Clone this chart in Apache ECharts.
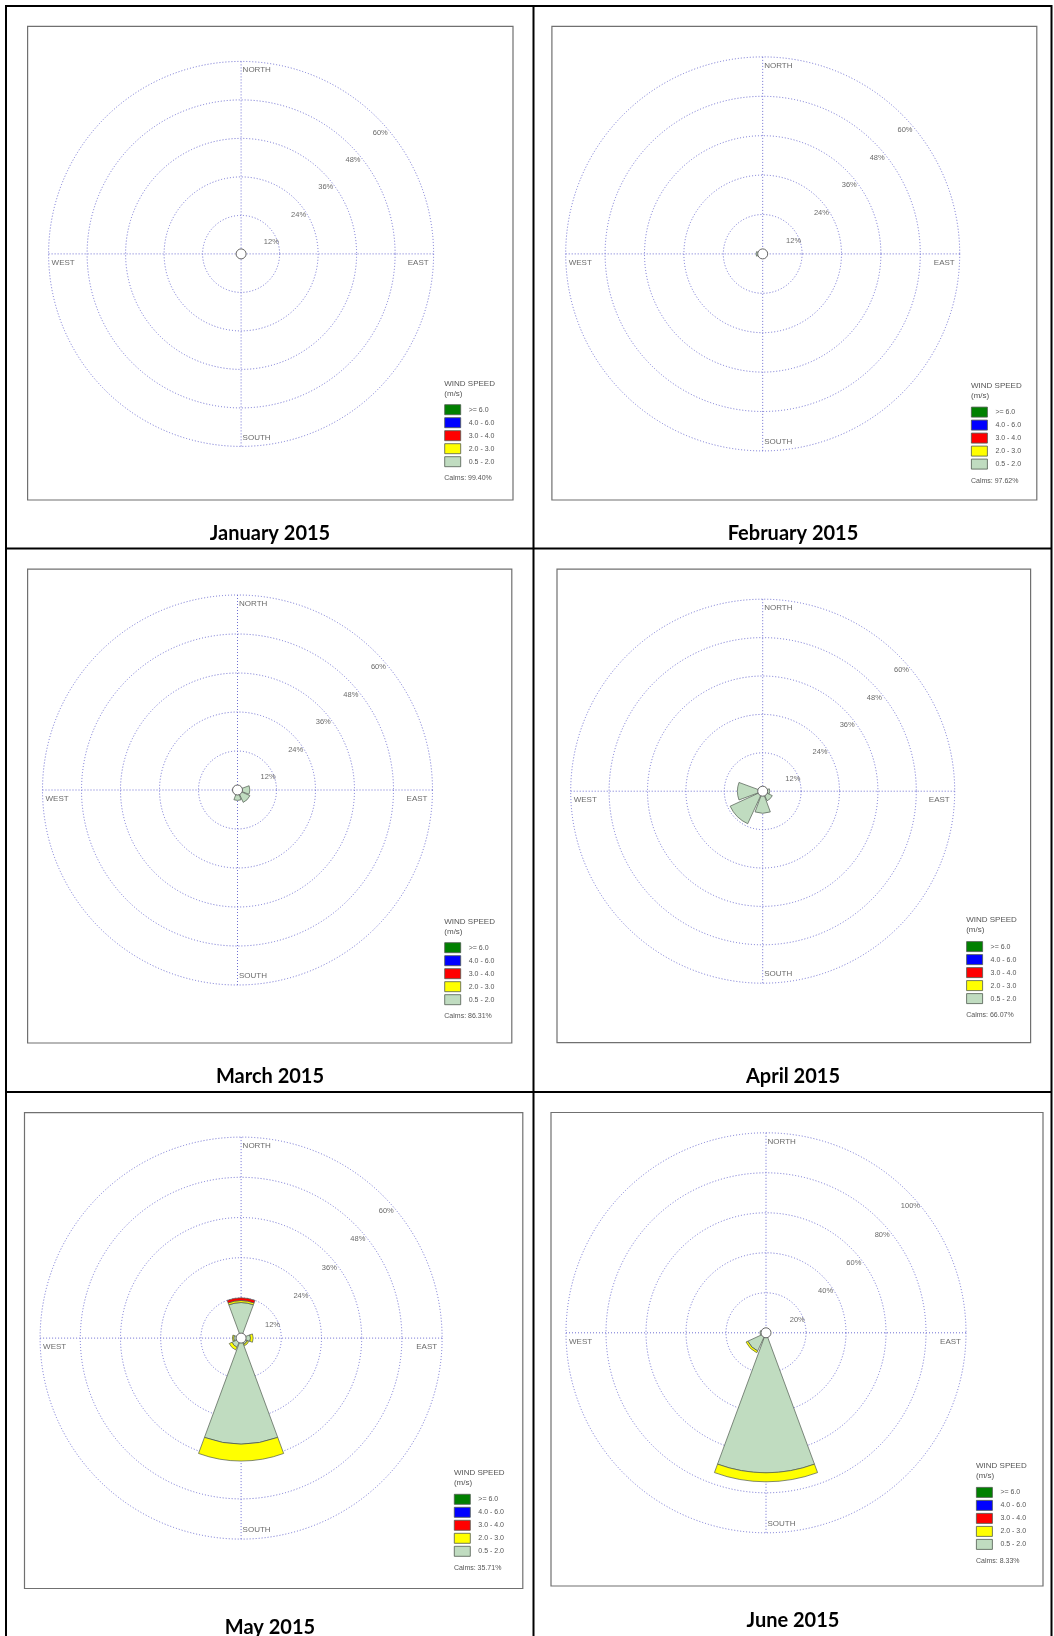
<!DOCTYPE html>
<html>
<head>
<meta charset="utf-8">
<script src="https://cdn.jsdelivr.net/npm/echarts@6/dist/echarts.min.js"></script>
<style>
  html, body { margin: 0; padding: 0; background: #fff; }
  #main { width: 1054px; height: 1636px; }
</style>
</head>
<body>
<div id="main"></div>
<script>
  // wind rose table, Jan - Jun 2015
  var directions = ['N', 'NE', 'E', 'SE', 'S', 'SW', 'W', 'NW'];
  var speedClasses = ['0.5 - 2.0', '2.0 - 3.0', '3.0 - 4.0', '4.0 - 6.0', '>= 6.0'];
  var speedColors = ['#c0dcc0', '#ffff00', '#ff0000', '#0000ff', '#008000'];
  var legendOrder = ['>= 6.0', '4.0 - 6.0', '3.0 - 4.0', '2.0 - 3.0', '0.5 - 2.0'];
  var months = ['January 2015', 'February 2015', 'March 2015', 'April 2015', 'May 2015', 'June 2015'];
  var calms = ['99.40%', '97.62%', '86.31%', '66.07%', '35.71%', '8.33%'];
  var ringTicks = [12, 24, 36, 48, 60];
  var ringTicksJun = [20, 40, 60, 80, 100];
  var compassNames = ['NORTH', 'EAST', 'SOUTH', 'WEST'];
  var compassBearings = [0, 90, 180, 270];

  // % frequency, one row per speed class (0.5-2.0 first), columns N..NW
  var janFreq = [
    [0.1, 0, 0, 0, 0.2, 0.2, 0.1, 0],
    [0, 0, 0, 0, 0, 0, 0, 0],
    [0, 0, 0, 0, 0, 0, 0, 0],
    [0, 0, 0, 0, 0, 0, 0, 0],
    [0, 0, 0, 0, 0, 0, 0, 0]
  ];
  var febFreq = [
    [0, 0, 0, 0, 0.2, 0.2, 2.0, 0],
    [0, 0, 0, 0, 0, 0, 0, 0],
    [0, 0, 0, 0, 0, 0, 0, 0],
    [0, 0, 0, 0, 0, 0, 0, 0],
    [0, 0, 0, 0, 0, 0, 0, 0]
  ];
  var marFreq = [
    [0.2, 0.6, 3.8, 4.2, 3.2, 1.4, 0.2, 0.1],
    [0, 0, 0, 0, 0, 0, 0, 0],
    [0, 0, 0, 0, 0, 0, 0, 0],
    [0, 0, 0, 0, 0, 0, 0, 0],
    [0, 0, 0, 0, 0, 0, 0, 0]
  ];
  var aprFreq = [
    [0.8, 0.6, 2.2, 3.3, 6.9, 11.2, 7.9, 1.0],
    [0, 0, 0, 0, 0, 0, 0, 0],
    [0, 0, 0, 0, 0, 0, 0, 0],
    [0, 0, 0, 0, 0, 0, 0, 0],
    [0, 0, 0, 0, 0, 0, 0, 0]
  ];
  var mayFreq = [
    [10.6, 0.8, 2.8, 2.0, 31.6, 3.0, 2.2, 1.0],
    [0.6, 0, 0.8, 0.5, 5.1, 0.9, 0.4, 0.2],
    [0.8, 0, 0, 0, 0, 0, 0, 0],
    [0, 0, 0, 0, 0, 0, 0, 0],
    [0, 0, 0, 0, 0, 0, 0, 0]
  ];
  var junFreq = [
    [1.0, 0, 0, 1.0, 70.0, 10.0, 3.0, 1.0],
    [0, 0, 0, 0, 4.5, 1.0, 0, 0],
    [0, 0, 0, 0, 0, 0, 0, 0],
    [0, 0, 0, 0, 0, 0, 0, 0],
    [0, 0, 0, 0, 0, 0, 0, 0]
  ];
  var monthFreq = [janFreq, febFreq, marFreq, aprFreq, mayFreq, junFreq];
  var monthTicks = [ringTicks, ringTicks, ringTicks, ringTicks, ringTicks, ringTicksJun];

  // layout of each panel (pixels)
  var panels = [
    {box: [27.6, 26.4, 513, 500],    c: [241.1, 253.9],  R: 192.5, leg: [444.3, 383.3],  title: [270, 534]},
    {box: [551.9, 26.4, 1036.8, 500], c: [762.7, 253.9], R: 197,   leg: [971, 385.7],    title: [793, 534]},
    {box: [27.6, 569.2, 511.8, 1043], c: [237.5, 790],   R: 195,   leg: [444.3, 921.3],  title: [270, 1076.7]},
    {box: [557, 569.2, 1030.6, 1042.7], c: [762.7, 791.2], R: 192, leg: [966.2, 920.2],  title: [793, 1076.7]},
    {box: [24.5, 1112.6, 522.8, 1588.5], c: [241.1, 1338.1], R: 201, leg: [453.9, 1472.9], title: [270, 1628]},
    {box: [551, 1112.5, 1043, 1586], c: [766, 1332.8],   R: 200,   leg: [976, 1466],     title: [793, 1621]}
  ];

  var gridColor = '#6f6fd2';
  var smallFont = 'Liberation Sans, Arial, sans-serif';

  var polar = [], angleAxis = [], radiusAxis = [], series = [], legend = [], graphic = [];

  // table frame
  graphic.push({type: 'rect', shape: {x: 6, y: 6, width: 1045.5, height: 1680}, style: {fill: 'none', stroke: '#000', lineWidth: 2}});
  graphic.push({type: 'line', shape: {x1: 533.5, y1: 6, x2: 533.5, y2: 1680}, style: {stroke: '#000', lineWidth: 2}});
  graphic.push({type: 'line', shape: {x1: 6, y1: 548.5, x2: 1051.5, y2: 548.5}, style: {stroke: '#000', lineWidth: 2}});
  graphic.push({type: 'line', shape: {x1: 6, y1: 1092, x2: 1051.5, y2: 1092}, style: {stroke: '#000', lineWidth: 2}});

  panels.forEach(function (p, i) {
    var ticks = monthTicks[i];
    var max = ticks[ticks.length - 1];
    var step = ticks[0];
    var gi = 2 * i, di = 2 * i + 1;

    polar.push({center: p.c, radius: p.R});
    polar.push({center: p.c, radius: p.R});

    // grid polar: rings + N/E/S/W spokes
    angleAxis.push({
      polarIndex: gi, type: 'value', min: 0, max: 360, interval: 90,
      startAngle: 90, clockwise: true,
      axisLine: {show: false}, axisTick: {show: false}, axisLabel: {show: false},
      splitLine: {show: true, lineStyle: {color: gridColor, width: 1, type: [1, 2]}},
      splitArea: {show: false}
    });
    radiusAxis.push({
      polarIndex: gi, type: 'value', min: 0, max: max, interval: step,
      axisLine: {show: false}, axisTick: {show: false}, axisLabel: {show: false},
      splitLine: {show: true, lineStyle: {color: gridColor, width: 1, type: [1, 2]}},
      splitArea: {show: false}
    });
    // data polar: 8 direction sectors, N centred at the top
    angleAxis.push({
      polarIndex: di, type: 'category', data: directions,
      startAngle: 112.5, clockwise: true, boundaryGap: true,
      axisLine: {show: false}, axisTick: {show: false}, axisLabel: {show: false},
      splitLine: {show: false}, splitArea: {show: false}
    });
    radiusAxis.push({
      polarIndex: di, type: 'value', min: 0, max: max,
      axisLine: {show: false}, axisTick: {show: false}, axisLabel: {show: false},
      splitLine: {show: false}, splitArea: {show: false}
    });

    monthFreq[i].forEach(function (row, c) {
      series.push({
        type: 'bar', coordinateSystem: 'polar', polarIndex: di,
        name: speedClasses[c], stack: 'rose' + i,
        barCategoryGap: '10%',
        data: row.map(function (v) { return v > 0 ? v : null; }),
        itemStyle: {color: speedColors[c], borderColor: '#4f5a4f', borderWidth: 0.7},
        silent: true, animation: false, z: 2
      });
    });

    // ring labels, along the NE bearing
    series.push({
      type: 'scatter', coordinateSystem: 'polar', polarIndex: gi,
      data: ticks.map(function (t) { return [t, 45]; }),
      symbolSize: 0.1, itemStyle: {color: 'transparent'},
      label: {
        show: true, position: 'inside', offset: [3, 15],
        formatter: function (d) { return d.value[0] + '%'; },
        fontSize: 7.5, color: '#444', fontFamily: smallFont
      },
      silent: true, animation: false, z: 3
    });

    // compass labels
    var offs = [[1.5, 8.5, 'left'], [-5, 9, 'right'], [1.5, -9, 'left'], [3, 9, 'left']];
    series.push({
      type: 'scatter', coordinateSystem: 'polar', polarIndex: gi,
      data: compassBearings.map(function (b, k) {
        return {
          value: [max, b],
          label: {formatter: compassNames[k], offset: [offs[k][0], offs[k][1]], align: offs[k][2]}
        };
      }),
      symbolSize: 0.1, itemStyle: {color: 'transparent'},
      label: {show: true, position: 'inside', verticalAlign: 'middle', fontSize: 8, color: '#444', fontFamily: smallFont},
      silent: true, animation: false, z: 3
    });

    // calm circle
    series.push({
      type: 'scatter', coordinateSystem: 'polar', polarIndex: gi,
      data: [[0, 0]], symbol: 'circle', symbolSize: 10,
      itemStyle: {color: '#fff', borderColor: '#666', borderWidth: 1, opacity: 1},
      silent: true, animation: false, z: 10
    });

    legend.push({
      left: p.leg[0], top: p.leg[1] + 21, orient: 'vertical', padding: 0,
      icon: 'rect', itemWidth: 16, itemHeight: 10, itemGap: 2.2,
      selectedMode: false, data: legendOrder,
      itemStyle: {borderWidth: 0.8},
      textStyle: {fontSize: 7, color: '#555', fontFamily: smallFont, padding: [0, 0, 0, 3]}
    });

    var b = p.box;
    graphic.push({type: 'rect', shape: {x: b[0], y: b[1], width: b[2] - b[0], height: b[3] - b[1]},
      style: {fill: 'none', stroke: '#707070', lineWidth: 1.2}});
    graphic.push({type: 'text', x: p.leg[0], y: p.leg[1],
      style: {text: 'WIND SPEED', font: '8px ' + smallFont, fill: '#555', verticalAlign: 'middle'}});
    graphic.push({type: 'text', x: p.leg[0], y: p.leg[1] + 10,
      style: {text: '(m/s)', font: '8px ' + smallFont, fill: '#555', verticalAlign: 'middle'}});
    graphic.push({type: 'text', x: p.leg[0], y: p.leg[1] + 95,
      style: {text: 'Calms: ' + calms[i], font: '7px ' + smallFont, fill: '#555', verticalAlign: 'middle'}});
    graphic.push({type: 'text', x: p.title[0], y: p.title[1],
      style: {text: months[i], font: 'bold 20px Lato, sans-serif', fill: '#000', align: 'center', verticalAlign: 'middle'}});
  });

  var chart = echarts.init(document.getElementById('main'), null, {renderer: 'canvas'});
  chart.setOption({
    animation: false,
    backgroundColor: '#fff',
    polar: polar,
    angleAxis: angleAxis,
    radiusAxis: radiusAxis,
    legend: legend,
    graphic: graphic,
    series: series
  });
</script>
</body>
</html>
